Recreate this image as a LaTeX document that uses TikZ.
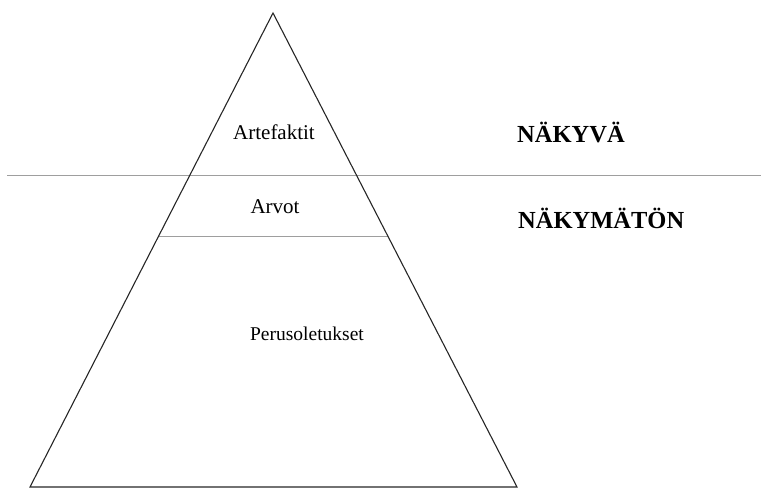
\documentclass[tikz,border=0pt]{standalone}
\usepackage{fontspec}
\setmainfont{Liberation Serif}
\usetikzlibrary{calc}
\begin{document}
\begin{tikzpicture}[x=1pt,y=-1pt,
  edge/.style={draw=black!85,line width=1.1pt,line join=miter},
  grayline/.style={draw=black!38,line width=1pt},
  lbl/.style={font=\fontsize{21}{24}\selectfont,inner sep=0pt},
  side/.style={font=\bfseries\fontsize{24.5}{27}\selectfont,inner sep=0pt,anchor=west}]
\useasboundingbox (0,0) rectangle (761,491);
\coordinate (apex) at (273,13);
\coordinate (bl) at (30,487);
\coordinate (br) at (517,487);
\coordinate (wl) at (7,175);
\coordinate (wr) at (761,175);
\coordinate (il) at ($(apex)!0.4705!(bl)$);
\coordinate (ir) at ($(apex)!0.4705!(br)$);
\draw[grayline] (wl) -- (wr);
\draw[grayline] (il) -- (ir);
\draw[edge] (apex) -- (bl) -- (br) -- cycle;
\node[lbl] (art) at (274,132) {Artefaktit};
\node[lbl] (arv) at (275,207) {Arvot};
\node[lbl,font=\fontsize{19.5}{22}\selectfont] (per) at (307,334) {Perusoletukset};
\node[side] (vis) at (517,132) {NÄKYVÄ};
\node[side] (inv) at (518,218) {NÄKYMÄTÖN};
\end{tikzpicture}
\end{document}
